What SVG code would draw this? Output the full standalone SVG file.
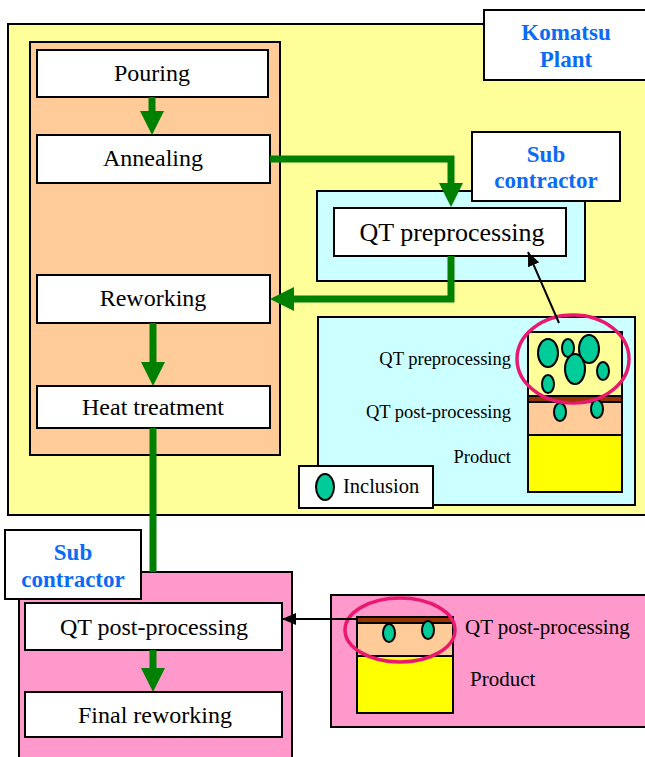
<svg xmlns="http://www.w3.org/2000/svg" width="645" height="757" viewBox="0 0 645 757">
<defs>
<style>
.bx{stroke:#000;stroke-width:2}
.w{fill:#fff}
.t{font-family:'Liberation Serif','Times New Roman','DejaVu Serif',serif;fill:#000;text-anchor:middle}
.lb{font-family:'Liberation Serif','Times New Roman','DejaVu Serif',serif;fill:#000}
.bl{font-family:'Liberation Serif','Times New Roman','DejaVu Serif',serif;font-weight:bold;fill:#0A6CF5;text-anchor:middle;font-size:23px}
.g{fill:none;stroke:#008000;stroke-width:7}
.inc{fill:#00CC99;stroke:#000;stroke-width:2}
.ring{fill:none;stroke:#E8196E;stroke-width:3.5}
</style>
<marker id="ga" markerUnits="userSpaceOnUse" markerWidth="24" markerHeight="24" refX="0" refY="12" orient="auto" viewBox="0 0 24 24">
<path d="M0,0 L24,12 L0,24 Z" fill="#008000"/>
</marker>
<marker id="ka" markerUnits="userSpaceOnUse" markerWidth="14" markerHeight="12" refX="14" refY="6" orient="auto" viewBox="0 0 14 12">
<path d="M0,0 L14,6 L0,12 Z" fill="#000"/>
</marker>
</defs>

<g id="komatsu-plant">
<rect class="bx" x="8" y="24" width="645" height="491" fill="#FFFF99"/>
<rect class="bx w" x="484" y="10" width="165" height="70"/>
<text class="bl" x="566" y="40">Komatsu</text>
<text class="bl" x="566" y="67">Plant</text>
</g>

<g id="komatsu-process">
<rect class="bx" x="30" y="42" width="250" height="413" fill="#FFCC99"/>
</g>

<g id="pouring">
<rect class="bx w" x="37" y="50" width="231" height="47"/>
<text class="t" x="152" y="81" font-size="24">Pouring</text>
</g>
<g id="annealing">
<rect class="bx w" x="37" y="135" width="233" height="48"/>
<text class="t" x="153" y="166" font-size="24">Annealing</text>
</g>
<g id="reworking">
<rect class="bx w" x="37" y="275" width="233" height="48"/>
<text class="t" x="153" y="306" font-size="24">Reworking</text>
</g>
<g id="heat-treatment">
<rect class="bx w" x="37" y="386" width="233" height="42"/>
<text class="t" x="153" y="415" font-size="24">Heat treatment</text>
</g>

<g id="subcontractor-pre">
<rect class="bx" x="317" y="191" width="268" height="90" fill="#CCFFFF"/>
<rect class="bx w" x="472" y="132" width="148" height="69"/>
<text class="bl" x="546" y="162">Sub</text>
<text class="bl" x="546" y="188">contractor</text>
</g>
<g id="qt-preprocessing">
<rect class="bx w" x="334" y="208" width="232" height="48"/>
<text class="t" x="452" y="241" font-size="26">QT preprocessing</text>
</g>

<g id="inclusion-detail-pre">
<rect class="bx" x="318" y="317" width="317" height="188" fill="#CCFFFF"/>
<rect x="528" y="332" width="94" height="64" fill="#FFFF99"/>
<rect x="528" y="396" width="94" height="6" fill="#993300"/>
<rect x="528" y="402" width="94" height="33" fill="#FFCC99"/>
<rect x="528" y="435" width="94" height="57" fill="#FFFF00"/>
<path d="M528,396 H622 M528,402 H622 M528,435 H622" stroke="#000" stroke-width="2"/>
<rect x="528" y="332" width="94" height="160" fill="none" stroke="#000" stroke-width="2"/>
<ellipse class="inc" cx="548" cy="353" rx="10" ry="14"/>
<ellipse class="inc" cx="568" cy="348" rx="6" ry="9"/>
<ellipse class="inc" cx="589" cy="349" rx="10" ry="14"/>
<ellipse class="inc" cx="575" cy="369" rx="10" ry="15"/>
<ellipse class="inc" cx="603" cy="371" rx="6" ry="9"/>
<ellipse class="inc" cx="548" cy="384" rx="6" ry="9"/>
<ellipse class="inc" cx="560" cy="412" rx="6" ry="9"/>
<ellipse class="inc" cx="597" cy="409" rx="6" ry="9"/>
<ellipse class="ring" cx="573" cy="359" rx="56" ry="44"/>
<text class="lb" x="511" y="365" font-size="18.5" text-anchor="end">QT preprocessing</text>
<text class="lb" x="511" y="418" font-size="18.5" text-anchor="end">QT post-processing</text>
<text class="lb" x="511" y="463" font-size="18.5" text-anchor="end">Product</text>
</g>

<g id="legend">
<rect class="bx w" x="299" y="466" width="134" height="42"/>
<ellipse class="inc" cx="325" cy="487" rx="9" ry="13"/>
<text class="lb" x="343" y="493" font-size="20.5">Inclusion</text>
</g>

<g id="subcontractor-post">
<rect class="bx" x="19" y="572" width="273" height="190" fill="#FF99CC"/>
</g>
<g id="qt-post-processing">
<rect class="bx w" x="25" y="603" width="257" height="47"/>
<text class="t" x="154" y="635" font-size="24">QT post-processing</text>
</g>
<g id="final-reworking">
<rect class="bx w" x="25" y="692" width="257" height="45"/>
<text class="t" x="155" y="723" font-size="24">Final reworking</text>
</g>
<g id="subcontractor-label-bottom">
<rect class="bx w" x="5" y="530" width="136" height="69"/>
<text class="bl" x="73" y="560">Sub</text>
<text class="bl" x="73" y="587">contractor</text>
</g>

<g id="inclusion-detail-post">
<rect class="bx" x="331" y="595" width="320" height="132" fill="#FF99CC"/>
<rect x="357" y="617" width="96" height="6" fill="#993300"/>
<rect x="357" y="623" width="96" height="33" fill="#FFCC99"/>
<rect x="357" y="656" width="96" height="57" fill="#FFFF00"/>
<path d="M357,623 H453 M357,656 H453" stroke="#000" stroke-width="2"/>
<rect x="357" y="617" width="96" height="96" fill="none" stroke="#000" stroke-width="2"/>
<ellipse class="inc" cx="389" cy="633" rx="6" ry="9"/>
<ellipse class="inc" cx="428" cy="630" rx="6" ry="9"/>
<ellipse class="ring" cx="400" cy="630" rx="55" ry="32"/>
<text class="lb" x="465" y="634" font-size="21">QT post-processing</text>
<text class="lb" x="470" y="686" font-size="21">Product</text>
</g>

<g id="connectors">
<path class="g" d="M152,97 V111" marker-end="url(#ga)"/>
<path class="g" d="M270,159 H451 V183" marker-end="url(#ga)"/>
<path class="g" d="M451,256 V299 H294" marker-end="url(#ga)"/>
<path class="g" d="M153,323 V362" marker-end="url(#ga)"/>
<path class="g" d="M153,428 V572"/>
<path class="g" d="M153,650 V668" marker-end="url(#ga)"/>
<path d="M559,323 L528,252" stroke="#000" stroke-width="2" fill="none" marker-end="url(#ka)"/>
<path d="M357,619 L282,619" stroke="#000" stroke-width="2" fill="none" marker-end="url(#ka)"/>
</g>
</svg>
